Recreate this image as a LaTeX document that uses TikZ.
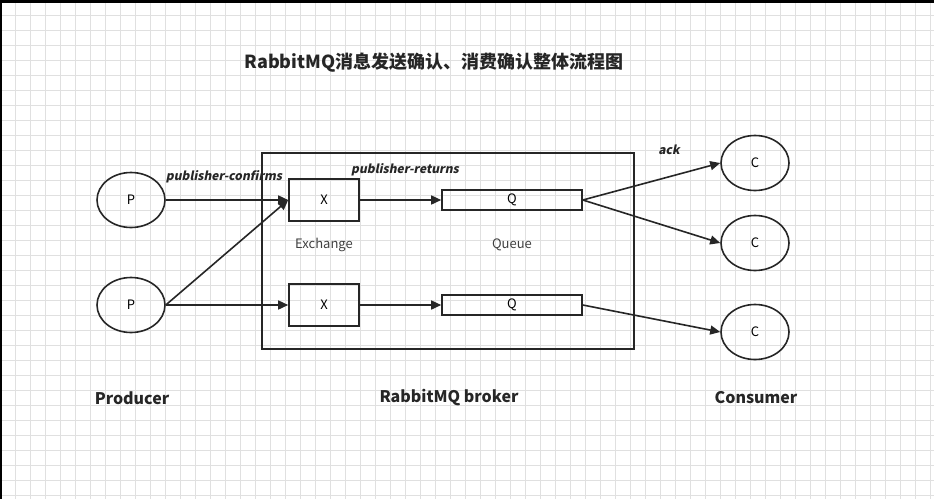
\documentclass[tikz,border=0pt]{standalone}
\usepackage{fontspec}
\setmainfont{Noto Sans CJK SC}
\newfontfamily\slfont{Noto Sans CJK SC}[FakeSlant=0.2]
\usetikzlibrary{arrows.meta,shapes.geometric}
\begin{document}
\begin{tikzpicture}[x=1pt,y=-1pt,
  ell/.style={draw=black!85,line width=1.6pt,ellipse,minimum width=68pt,minimum height=55pt,inner sep=0pt,font=\fontsize{13}{13}\selectfont},
  xbox/.style={draw=black!85,line width=1.6pt,minimum width=70pt,minimum height=42pt,inner sep=0pt,font=\fontsize{13}{13}\selectfont},
  qbox/.style={draw=black!85,line width=1.6pt,minimum width=140pt,minimum height=20pt,inner sep=0pt,font=\fontsize{13}{13}\selectfont},
  conn/.style={draw=black!85,line width=1.6pt,-{Triangle[length=10pt,width=9pt]}},
  lbl/.style={font=\fontsize{13}{13}\selectfont,text=black!75},
  ital/.style={font=\slfont\bfseries\fontsize{12}{12}\selectfont,text=black!85},
  head/.style={font=\bfseries\fontsize{16}{16}\selectfont,text=black!85},
  gridline/.style={draw=black!12,line width=0.6pt}]
\useasboundingbox (0,0) rectangle (934,499);
\fill[white] (0,0) rectangle (934,499);
\foreach \gx in {0,15,...,930} {\draw[gridline] (\gx,0) -- (\gx,499);}
\foreach \gy in {0,15,...,495} {\draw[gridline] (0,\gy) -- (934,\gy);}
\fill[black] (0,0) rectangle (934,3);
\fill[black] (0,0) rectangle (1.5,499);
% title
\node[font=\bfseries\fontsize{18}{18}\selectfont,text=black!85] (title) at (434,63) {RabbitMQ消息发送确认、消费确认整体流程图};
% broker frame
\node[draw=black!85,line width=1.6pt,fill=white,fill opacity=0,minimum width=372pt,minimum height=196pt,inner sep=0pt] (broker) at (448,251) {};
% producers
\node[ell] (p1) at (131,200) {P};
\node[ell] (p2) at (131,305) {P};
% exchanges
\node[xbox] (x1) at (324,200) {X};
\node[xbox] (x2) at (324,305) {X};
\node[lbl] (exl) at (324,245) {Exchange};
% queues
\node[qbox] (q1) at (512,200) {Q};
\node[qbox] (q2) at (512,305) {Q};
\node[lbl] (ql) at (512,245) {Queue};
% consumers
\node[ell] (c1) at (755,163) {C};
\node[ell] (c2) at (755,243) {C};
\node[ell] (c3) at (755,332) {C};
% connectors
\draw[conn] (p1.east) -- (x1.west);
\draw[conn] (p2.east) -- (x1.west);
\draw[conn] (p2.east) -- (x2.west);
\draw[conn] (x1.east) -- (q1.west);
\draw[conn] (x2.east) -- (q2.west);
\draw[conn] (q1.east) -- (c1.west);
\draw[conn] (q1.east) -- (c2.west);
\draw[conn] (q2.east) -- (c3.west);
% labels
\node[ital] (pc) at (224,177) {publisher-confirms};
\node[ital] (pr) at (405,170) {publisher-returns};
\node[ital] (ack) at (669,150) {ack};
\node[head] (prod) at (132,398) {Producer};
\node[head] (brk) at (449,398) {RabbitMQ broker};
\node[head] (cons) at (756,398) {Consumer};
\end{tikzpicture}
\end{document}
